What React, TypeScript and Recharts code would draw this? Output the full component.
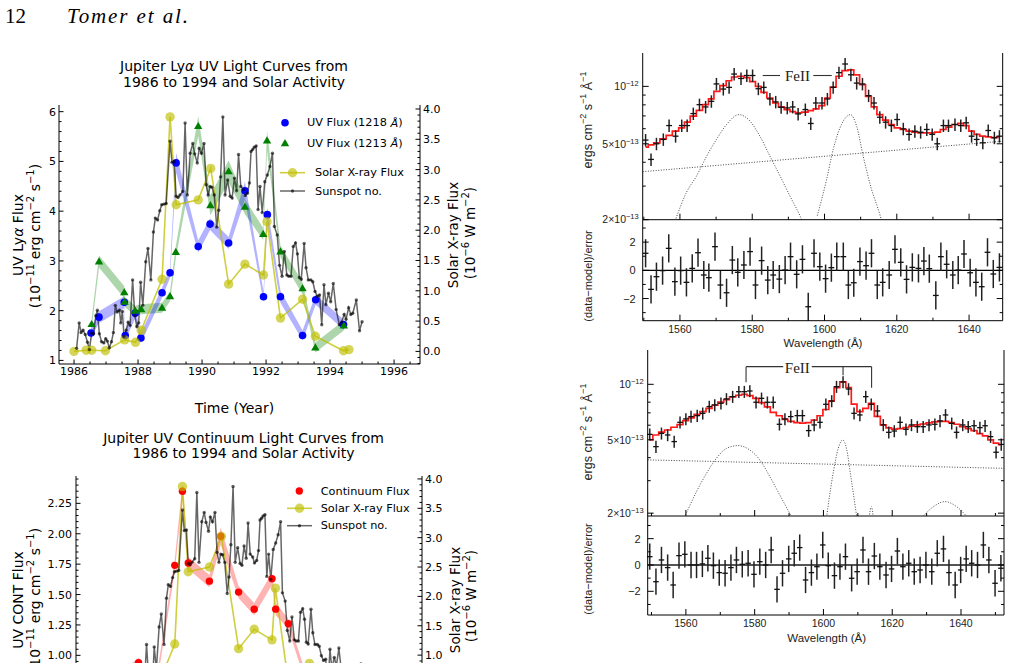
import React from 'react';
import { ComposedChart, Line, Scatter, Area, XAxis, YAxis, ErrorBar, ReferenceLine } from 'recharts';

const SANS = 'DejaVu Sans';
const ARIAL = 'Liberation Sans';
const SERIF = 'Liberation Serif';

// ---- Lyman-alpha light curves (left axis, 1e-11 erg cm-2 s-1) ----
const uv1218Year = [1986.53, 1986.78, 1987.57, 1987.6, 1987.91, 1988.09, 1988.75, 1989.0, 1989.19, 1989.88, 1990.25, 1990.83, 1991.34, 1991.92, 1992.04, 1992.45, 1993.14, 1993.55, 1994.42];
const uv1218Flux = [1.55, 1.87, 2.17, 1.5, 1.95, 1.45, 2.36, 2.76, 4.97, 3.29, 3.74, 3.36, 4.41, 2.28, 3.93, 2.28, 1.5, 2.22, 1.72];
const uv1218Err = [0.1, 0.12, 0.12, 0.1, 0.1, 0.1, 0.1, 0.1, 0.2, 0.12, 0.12, 0.12, 0.18, 0.1, 0.15, 0.12, 0.1, 0.1, 0.1];

const uv1213Year = [1986.55, 1986.78, 1987.57, 1987.58, 1987.91, 1988.1, 1988.75, 1989.0, 1989.18, 1989.88, 1990.26, 1990.83, 1991.34, 1991.91, 1992.03, 1992.45, 1993.14, 1993.54, 1994.43];
const uv1213Flux = [1.73, 2.99, 2.37, 2.18, 2.0, 2.03, 2.06, 2.29, 3.18, 5.71, 4.12, 4.8, 4.09, 3.54, 5.42, 3.19, 2.45, 1.26, 1.7];
const uv1213Err = [0.1, 0.12, 0.12, 0.1, 0.1, 0.1, 0.1, 0.1, 0.12, 0.2, 0.2, 0.22, 0.15, 0.12, 0.2, 0.12, 0.12, 0.1, 0.1];

// ---- UV continuum (left axis of lower chart) ----
const contYear = [1986.53, 1986.78, 1987.57, 1987.91, 1988.09, 1988.75, 1989.0, 1989.19, 1989.88, 1990.25, 1990.83, 1991.34, 1991.92, 1992.04, 1992.45, 1993.14, 1993.55, 1994.42];
const contFlux = [0.7, 0.78, 0.94, 0.8, 0.68, 1.74, 2.35, 1.76, 1.61, 1.98, 1.52, 1.38, 1.63, 1.38, 1.26, 0.72, 0.7, 0.62];
const contErr = [0.04, 0.04, 0.04, 0.04, 0.04, 0.05, 0.06, 0.05, 0.05, 0.07, 0.05, 0.05, 0.05, 0.05, 0.04, 0.04, 0.04, 0.04];

// ---- solar activity (right axis, 1e-6 W m-2) ----
const xrayYear = [1986.0, 1986.38, 1986.55, 1986.98, 1987.58, 1987.92, 1988.1, 1988.75, 1989.0, 1989.19, 1989.88, 1990.27, 1990.83, 1991.34, 1991.92, 1992.03, 1992.45, 1993.14, 1993.54, 1994.42, 1994.59];
const xrayFlux = [0.0, 0.02, 0.02, 0.01, 0.19, 0.15, 0.35, 1.19, 3.87, 2.42, 2.5, 3.02, 1.11, 1.44, 1.26, 2.14, 0.55, 0.86, 0.25, 0.01, 0.03];

const sunspotYear = [
  1986.08, 1986.16, 1986.22, 1986.28, 1986.35, 1986.42, 1986.48, 1986.55, 1986.61, 1986.68,
  1986.73, 1986.79, 1986.86, 1986.93, 1986.99, 1987.04, 1987.1, 1987.17, 1987.23, 1987.29,
  1987.35, 1987.42, 1987.46, 1987.51, 1987.56, 1987.63, 1987.69, 1987.75, 1987.83, 1987.9,
  1987.96, 1988.02, 1988.08, 1988.15, 1988.24, 1988.31, 1988.4, 1988.48, 1988.54, 1988.61,
  1988.68, 1988.74, 1988.81, 1988.88, 1989.0, 1989.06, 1989.13, 1989.19, 1989.25, 1989.31,
  1989.4, 1989.47, 1989.54, 1989.63, 1989.71, 1989.77, 1989.85, 1989.91, 1989.98, 1990.06,
  1990.13, 1990.19, 1990.25, 1990.31, 1990.38, 1990.46, 1990.52, 1990.58, 1990.65, 1990.72,
  1990.8, 1990.88, 1990.94, 1991.01, 1991.08, 1991.14, 1991.21, 1991.29, 1991.35, 1991.42,
  1991.48, 1991.53, 1991.58, 1991.63, 1991.69, 1991.75, 1991.81, 1991.88, 1991.96, 1992.04,
  1992.12, 1992.2, 1992.26, 1992.35, 1992.42, 1992.5, 1992.57, 1992.65, 1992.71, 1992.78,
  1992.85, 1992.92, 1992.98, 1993.04, 1993.1, 1993.19, 1993.25, 1993.32, 1993.4, 1993.46,
  1993.53, 1993.6, 1993.67, 1993.74, 1993.81, 1993.87, 1993.95, 1994.02, 1994.1, 1994.19,
  1994.29, 1994.36, 1994.44, 1994.5, 1994.58, 1994.65, 1994.71, 1994.82, 1994.92, 1995.0,
];
const sunspotValue = [
  0.05, 0.47, 0.31, 0.35, 0.28, 0.15, 0.03, 0.3, 0.29, 0.59,
  0.68, 0.29, 0.16, 0.14, 0.21, 0.17, 0.06, 0.16, 0.31, 0.76,
  0.65, 0.68, 0.47, 0.66, 0.25, 0.35, 0.48, 0.43, 1.18, 0.59,
  0.41, 0.47, 1.14, 0.76, 1.48, 1.7, 1.18, 1.97, 2.2, 2.17,
  2.32, 2.42, 2.43, 2.44, 3.47, 3.12, 3.13, 2.56, 2.54, 2.58,
  2.64, 3.77, 2.58, 3.27, 3.43, 3.26, 3.11, 3.35, 3.27, 3.43,
  2.75, 2.58, 2.72, 2.71, 2.58, 2.05, 2.33, 2.88, 3.87, 2.58,
  2.83, 2.56, 2.53, 2.86, 2.65, 3.25, 2.72, 2.67, 2.57, 2.61,
  2.78, 3.3, 3.33, 3.37, 3.39, 2.34, 2.72, 2.29, 2.8, 2.91,
  3.05, 3.27, 2.06, 1.92, 1.42, 1.24, 1.65, 1.26, 1.24, 1.24,
  1.73, 1.79, 1.61, 1.22, 1.19, 1.78, 1.38, 1.18, 1.18, 1.15,
  0.99, 0.91, 0.93, 0.44, 1.1, 0.77, 0.96, 0.82, 1.12, 0.69,
  0.44, 0.48, 0.61, 0.53, 0.72, 0.61, 0.63, 0.85, 0.34, 0.49,
];

// ---- spectrum 1 (flux in 1e-13 erg cm-2 s-1 A-1) ----
const specAWave = [1550.5, 1552.0, 1553.5, 1555.4, 1557.0, 1558.8, 1560.5, 1562.0, 1563.7, 1565.4, 1567.1, 1568.7, 1570.1, 1572.0, 1573.6, 1575.0, 1576.9, 1578.5, 1580.1, 1581.7, 1583.2, 1584.9, 1586.5, 1588.0, 1589.7, 1591.2, 1592.7, 1594.7, 1596.2, 1597.6, 1599.3, 1600.8, 1602.4, 1604.0, 1605.7, 1607.3, 1608.9, 1610.5, 1612.2, 1613.7, 1615.3, 1616.9, 1618.5, 1620.1, 1621.8, 1623.4, 1625.0, 1626.6, 1628.3, 1629.8, 1631.2, 1632.9, 1634.3, 1636.1, 1637.7, 1639.2, 1640.7, 1642.1, 1643.8, 1645.3, 1647.0, 1648.4];
const specAFlux = [5.23, 4.14, 5.0, 5.27, 6.23, 5.48, 6.23, 6.23, 7.2, 8.02, 7.8, 8.35, 10.3, 9.68, 9.88, 11.6, 11.0, 11.4, 11.4, 9.72, 9.88, 8.59, 8.29, 7.77, 7.71, 7.8, 7.17, 7.56, 6.39, 8.18, 8.18, 8.59, 9.88, 11.8, 13.1, 11.5, 10.4, 10.3, 8.94, 8.18, 6.89, 6.49, 6.23, 6.7, 5.99, 5.6, 5.82, 5.75, 5.94, 5.6, 5.0, 6.23, 6.23, 6.31, 6.23, 6.44, 5.48, 5.27, 5.06, 5.87, 5.38, 5.48];
const specAModel = [4.8, 4.93, 5.06, 5.31, 5.53, 5.82, 6.06, 6.49, 6.98, 7.49, 8.02, 8.59, 9.42, 10.1, 10.7, 11.2, 11.3, 11.1, 10.6, 10.0, 9.3, 8.69, 8.18, 7.8, 7.56, 7.38, 7.26, 7.32, 7.46, 7.62, 7.93, 8.69, 9.92, 11.3, 12.1, 12.2, 11.5, 10.2, 8.87, 7.8, 7.11, 6.65, 6.31, 6.06, 5.94, 5.82, 5.75, 5.71, 5.71, 5.71, 5.75, 5.94, 6.11, 6.31, 6.39, 6.23, 5.82, 5.6, 5.48, 5.44, 5.38, 5.44];
const specAContWave = [1549.7, 1649.3];
const specACont = [3.57, 5.16];
const specAG1Wave = [1558.9, 1561.8, 1564.6, 1567.4, 1570.1, 1572.9, 1576.3, 1579.4, 1582.1, 1584.9, 1587.7, 1590.4, 1593.2, 1594.2];
const specAG1 = [2.03, 2.78, 3.39, 4.31, 5.27, 6.31, 7.11, 6.57, 5.49, 4.31, 3.39, 2.67, 2.1, 1.9];
const specAG2Wave = [1598.0, 1600.6, 1602.4, 1604.7, 1607.2, 1608.9, 1610.7, 1613.0, 1615.4, 1616.0];
const specAG2 = [2.1, 3.26, 4.67, 6.31, 7.11, 6.18, 4.31, 2.89, 2.1, 1.9];
const specAResWave = [1550.5, 1552.0, 1553.5, 1555.2, 1556.9, 1558.6, 1560.2, 1561.8, 1563.4, 1565.0, 1566.6, 1568.0, 1569.7, 1571.2, 1572.9, 1574.5, 1576.0, 1577.7, 1579.4, 1580.9, 1582.6, 1584.3, 1585.8, 1587.5, 1589.1, 1590.6, 1592.3, 1593.9, 1595.5, 1597.1, 1598.7, 1600.3, 1601.9, 1603.4, 1605.2, 1606.6, 1608.1, 1609.8, 1611.5, 1613.0, 1614.6, 1616.1, 1617.9, 1619.5, 1621.1, 1622.7, 1624.3, 1626.0, 1627.5, 1629.0, 1630.8, 1632.2, 1633.8, 1635.5, 1637.0, 1638.6, 1640.3, 1641.9, 1643.5, 1645.1, 1646.7, 1648.4];
const specARes = [1.21, -1.35, -0.45, -0.02, 1.56, -0.8, -0.02, -0.85, 0.14, 1.25, -0.33, -0.52, 1.68, -1.04, -1.59, 0.73, -0.14, 0.38, 1.33, -1.04, 0.69, -0.69, -0.33, -0.62, 0.02, 0.97, -0.28, 0.78, -2.58, 1.21, 0.26, -0.59, 0.19, 0.97, 0.97, -1.04, -0.88, 0.62, 0.33, 1.21, -1.04, -0.85, -0.33, 1.49, 0.57, -0.64, 0.21, 0.14, 0.66, 0.12, -1.78, 0.97, 0.43, -0.33, 0.02, 1.16, -0.17, -0.85, -1.16, 1.28, -0.26, 0.21];

// ---- spectrum 2 ----
const specBWave = [1549.5, 1551.3, 1552.9, 1554.7, 1556.6, 1558.3, 1560.0, 1561.5, 1563.3, 1564.9, 1566.8, 1568.4, 1570.2, 1571.8, 1573.6, 1575.4, 1577.0, 1578.6, 1580.4, 1582.0, 1583.7, 1585.4, 1587.2, 1588.8, 1590.5, 1592.4, 1593.9, 1595.7, 1597.3, 1599.0, 1600.7, 1602.4, 1603.8, 1605.7, 1607.3, 1608.9, 1610.6, 1612.3, 1613.9, 1615.7, 1617.4, 1619.0, 1620.6, 1622.3, 1624.0, 1625.6, 1627.3, 1629.0, 1630.7, 1632.4, 1633.9, 1635.5, 1637.3, 1638.7, 1640.5, 1642.1, 1643.8, 1645.5, 1647.0, 1648.6, 1650.2, 1651.7];
const specBFlux = [5.35, 4.59, 5.42, 5.31, 4.89, 6.22, 6.49, 6.68, 6.76, 6.96, 7.57, 7.73, 7.89, 8.33, 8.57, 9.12, 9.12, 9.2, 7.99, 8.39, 7.99, 7.99, 6.07, 6.49, 6.68, 6.76, 6.76, 5.61, 6.02, 6.22, 7.79, 8.12, 9.71, 10.3, 9.43, 6.96, 6.82, 8.57, 7.79, 7.17, 6.02, 5.49, 5.58, 6.22, 5.7, 6.02, 5.89, 5.89, 6.02, 6.07, 6.33, 6.82, 6.14, 5.49, 6.02, 5.89, 5.96, 5.82, 5.96, 5.2, 4.28, 4.72];
const specBModel = [5.0, 5.31, 5.5, 5.65, 5.85, 6.05, 6.35, 6.58, 6.87, 7.1, 7.4, 7.7, 8.0, 8.25, 8.55, 8.72, 8.83, 8.68, 8.38, 7.95, 7.55, 7.05, 6.75, 6.45, 6.3, 6.2, 6.15, 6.2, 6.4, 6.75, 7.3, 8.1, 9.6, 10.3, 9.6, 7.8, 7.1, 7.4, 7.89, 6.7, 6.02, 5.8, 5.72, 5.75, 5.82, 5.92, 6.03, 6.09, 6.18, 6.25, 6.3, 6.3, 6.2, 6.07, 5.9, 5.75, 5.6, 5.4, 5.25, 5.0, 4.8, 4.7];
const specBContWave = [1548.9, 1652.5];
const specBCont = [3.89, 3.5];
const specBG1Wave = [1559.6, 1563.1, 1566.0, 1568.9, 1571.8, 1575.2, 1578.6, 1581.5, 1584.4, 1587.3, 1590.8];
const specBG1 = [1.9, 2.62, 3.29, 3.97, 4.49, 4.65, 4.4, 3.89, 3.16, 2.51, 1.9];
const specBG2Wave = [1600.9, 1602.9, 1604.3, 1605.6, 1606.7, 1607.9, 1609.7];
const specBG2 = [1.9, 3.36, 4.49, 4.99, 4.49, 3.22, 1.9];
const specBG3Wave = [1613.3, 1613.9, 1614.5];
const specBG3 = [1.9, 2.17, 1.9];
const specBG4Wave = [1628.7, 1632.0, 1635.3, 1638.7, 1641.9];
const specBG4 = [1.9, 2.17, 2.31, 2.17, 1.9];
const specBResWave = [1549.5, 1551.3, 1552.9, 1554.7, 1556.3, 1558.0, 1559.7, 1561.5, 1563.1, 1564.8, 1566.4, 1568.0, 1569.7, 1571.4, 1573.1, 1574.7, 1576.4, 1578.1, 1579.8, 1581.5, 1583.2, 1584.8, 1586.5, 1588.1, 1589.9, 1591.5, 1593.1, 1594.8, 1596.5, 1598.1, 1599.8, 1601.4, 1603.2, 1604.8, 1606.4, 1608.2, 1609.8, 1611.5, 1613.1, 1614.8, 1616.4, 1618.2, 1619.8, 1621.5, 1623.1, 1624.8, 1626.4, 1628.1, 1629.8, 1631.5, 1633.1, 1634.9, 1636.5, 1638.3, 1639.9, 1641.5, 1643.1, 1644.8, 1646.5, 1648.1, 1649.9, 1651.6];
const specBRes = [0.63, -1.27, 0.38, -0.2, -1.52, 0.71, 0.81, 0.0, 0.0, 0.08, 0.51, -0.05, -0.58, -0.63, -0.2, 0.38, 0.05, 0.13, -0.71, 0.25, 0.0, 1.14, -1.85, -0.63, 0.46, 0.89, 1.32, -1.14, -0.58, -0.13, 1.52, -0.05, -0.81, -0.13, 0.63, -1.01, -0.51, 1.14, -0.51, 0.68, -0.13, -0.76, -0.3, 1.06, -0.13, 0.13, -0.51, -0.38, 0.0, -0.51, 0.89, 1.22, -0.58, -1.52, -0.38, 0.46, 0.13, 0.0, 1.52, 0.38, -1.39, -0.25];

// ---- axis ticks ----
const range = (a: number, b: number, step: number) =>
  Array.from({ length: Math.round((b - a) / step) + 1 }, (_, i) => Number((a + i * step).toFixed(4)));
const yearMajor = [1986, 1988, 1990, 1992, 1994, 1996];
const yearTicks = range(1986, 1996.5, 0.5);
const lyaMajor = [1, 2, 3, 4, 5, 6];
const lyaTicks = range(1, 6, 0.2);
const contMajor = [0.5, 0.75, 1, 1.25, 1.5, 1.75, 2, 2.25];
const contTicks = range(0.45, 2.45, 0.05);
const xrayMajor = range(0, 4, 0.5);
const xrayTicks = range(-0.2, 4, 0.1);
const waveMajor = [1560, 1580, 1600, 1620, 1640];
const waveTicks = range(1550, 1650, 10);
const fluxMajor = [2, 5, 10];
const fluxTicks = [2, 3, 4, 5, 6, 7, 8, 9, 10];
const resMajor = [-2, 0, 2];
const resTicks = [-3, -2, -1, 0, 1, 2, 3];

const zip = (xs: number[], ys: number[]) => xs.map((x, i) => ({ x, y: ys[i] }));
const band = (xs: number[], ys: number[], es: number[]) => xs.map((x, i) => ({ x, y: ys[i], band: [ys[i] - es[i], ys[i] + es[i]] }));

const frame = { stroke: '#000', strokeWidth: 1 };
const near = (v: number, list: number[]) => list.some((m) => Math.abs(m - v) < 1e-6);

interface TickCfg {
  side: 'left' | 'right' | 'top' | 'bottom';
  majors: number[];
  fmt?: (v: number) => React.ReactNode;
  big?: number;
  small?: number;
  gap?: number;
  size?: number;
  family?: string;
  color?: string;
}

function makeTick(cfg: TickCfg) {
  const { side, majors, fmt, big = 4.5, small = 2.5, gap = 3, size = 11, family = SANS, color = '#000' } = cfg;
  return function Tick(props: any) {
    const { x, y, payload } = props;
    const v = Number(payload.value);
    const major = near(v, majors);
    const len = major ? big : small;
    const label = major && fmt ? fmt(v) : null;
    const t = { fontSize: size, fontFamily: family, fill: color };
    if (side === 'left')
      return (
        <g>
          <line x1={x} y1={y} x2={x + len} y2={y} stroke="#000" />
          {label != null && <text x={x - gap} y={y} dy="0.36em" textAnchor="end" {...t}>{label}</text>}
        </g>
      );
    if (side === 'right')
      return (
        <g>
          <line x1={x} y1={y} x2={x - len} y2={y} stroke="#000" />
          {label != null && <text x={x + gap} y={y} dy="0.36em" textAnchor="start" {...t}>{label}</text>}
        </g>
      );
    if (side === 'top') return <line x1={x} y1={y} x2={x} y2={y + len} stroke="#000" />;
    return (
      <g>
        <line x1={x} y1={y} x2={x} y2={y - len} stroke="#000" />
        {label != null && <text x={x} y={y + gap} dy="0.75em" textAnchor="middle" {...t}>{label}</text>}
      </g>
    );
  };
}

const axisBase = { type: 'number' as const, allowDataOverflow: true, interval: 0 as const, tickSize: 0, tickMargin: 0, tickLine: false, axisLine: frame };

const dotShape = (color: string, r: number) => (p: any) => <circle cx={p.cx} cy={p.cy} r={r} fill={color} />;
const triShape = (p: any) => (
  <polygon points={`${p.cx},${p.cy - 4.2} ${p.cx - 4.2},${p.cy + 3} ${p.cx + 4.2},${p.cy + 3}`} fill="#008000" />
);
const noShape = () => <g />;

const XRAY = '#bfbf00';
const yearDomain: [number, number] = [1985.53, 1996.81];

function LyaChart() {
  return (
    <ComposedChart width={480} height={400} margin={{ top: 105, right: 0, bottom: 0, left: 0 }}>
      <XAxis xAxisId="b" dataKey="x" domain={yearDomain} ticks={yearTicks} height={36} tick={makeTick({ side: 'bottom', majors: yearMajor, fmt: String, gap: 3 })} {...axisBase} />
      <XAxis xAxisId="t" orientation="top" dataKey="x" domain={yearDomain} ticks={yearTicks} height={0} tick={makeTick({ side: 'top', majors: yearMajor })} {...axisBase} />
      <YAxis yAxisId="l" dataKey="y" domain={[0.928, 6.134]} ticks={lyaTicks} width={59} tick={makeTick({ side: 'left', majors: lyaMajor, fmt: String })} {...axisBase} />
      <YAxis yAxisId="r" orientation="right" dataKey="y" domain={[-0.208, 4.066]} ticks={xrayTicks} width={60} tick={makeTick({ side: 'right', majors: xrayMajor, fmt: (v) => v.toFixed(1) })} {...axisBase} />
      <Line xAxisId="t" yAxisId="l" data={zip(uv1218Year, uv1218Flux)} dataKey="y" stroke="none" dot={false} activeDot={false} isAnimationActive={false} />
      <Area xAxisId="b" yAxisId="l" data={band(uv1213Year, uv1213Flux, uv1213Err)} dataKey="band" type="linear" fill="#008000" fillOpacity={0.32} stroke="none" isAnimationActive={false} />
      <Area xAxisId="b" yAxisId="l" data={band(uv1218Year, uv1218Flux, uv1218Err)} dataKey="band" type="linear" fill="#0000ff" fillOpacity={0.3} stroke="none" isAnimationActive={false} />
      <Scatter xAxisId="b" yAxisId="l" data={zip(uv1218Year, uv1218Flux)} shape={dotShape('#0000ff', 3.8)} isAnimationActive={false} />
      <Scatter xAxisId="b" yAxisId="l" data={zip(uv1213Year, uv1213Flux)} shape={triShape} isAnimationActive={false} />
      <Line xAxisId="b" yAxisId="r" data={zip(xrayYear, xrayFlux)} dataKey="y" type="linear" stroke={XRAY} strokeOpacity={0.75} strokeWidth={1.6} dot={{ r: 4.7, fill: XRAY, fillOpacity: 0.65, stroke: 'none' }} activeDot={false} isAnimationActive={false} />
      <Line xAxisId="b" yAxisId="r" data={zip(sunspotYear, sunspotValue)} dataKey="y" type="linear" stroke="#000" strokeOpacity={0.6} strokeWidth={1.5} dot={{ r: 1.7, fill: '#000', fillOpacity: 0.6, stroke: 'none' }} activeDot={false} isAnimationActive={false} />
    </ComposedChart>
  );
}

function ContChart() {
  // the page ends before this chart's bottom axis, so its year labels are not drawn
  return (
    <ComposedChart width={480} height={360} margin={{ top: 96, right: 0, bottom: 0, left: 0 }}>
      <XAxis xAxisId="b" dataKey="x" domain={yearDomain} ticks={yearTicks} height={15} tick={makeTick({ side: 'bottom', majors: yearMajor })} {...axisBase} />
      <XAxis xAxisId="t" orientation="top" dataKey="x" domain={yearDomain} ticks={yearTicks} height={0} tick={makeTick({ side: 'top', majors: yearMajor })} {...axisBase} />
      <YAxis yAxisId="l" dataKey="y" domain={[0.427, 2.475]} ticks={contTicks} width={76} tick={makeTick({ side: 'left', majors: contMajor, fmt: (v) => (v >= 1 ? v.toFixed(2) : ''), gap: 4 })} {...axisBase} />
      <YAxis yAxisId="r" orientation="right" dataKey="y" domain={[-0.19, 4.05]} ticks={xrayTicks} width={58} tick={makeTick({ side: 'right', majors: xrayMajor, fmt: (v) => (v >= 1 ? v.toFixed(1) : '') })} {...axisBase} />
      <Line xAxisId="t" yAxisId="l" data={zip(contYear, contFlux)} dataKey="y" stroke="none" dot={false} activeDot={false} isAnimationActive={false} />
      <Area xAxisId="b" yAxisId="l" data={band(contYear, contFlux, contErr)} dataKey="band" type="linear" fill="#ff0000" fillOpacity={0.3} stroke="none" isAnimationActive={false} />
      <Scatter xAxisId="b" yAxisId="l" data={zip(contYear, contFlux)} shape={dotShape('#ff0000', 3.7)} isAnimationActive={false} />
      <Line xAxisId="b" yAxisId="r" data={zip(xrayYear, xrayFlux)} dataKey="y" type="linear" stroke={XRAY} strokeOpacity={0.75} strokeWidth={1.6} dot={{ r: 4.7, fill: XRAY, fillOpacity: 0.65, stroke: 'none' }} activeDot={false} isAnimationActive={false} />
      <Line xAxisId="b" yAxisId="r" data={zip(sunspotYear, sunspotValue)} dataKey="y" type="linear" stroke="#000" strokeOpacity={0.6} strokeWidth={1.5} dot={{ r: 1.7, fill: '#000', fillOpacity: 0.6, stroke: 'none' }} activeDot={false} isAnimationActive={false} />
    </ComposedChart>
  );
}

interface SpecCfg {
  plotLeft: number;
  plotRight: number;
  plotTop: number;
  divider: number;
  plotBottom: number;
  xDomain: [number, number];
  yDomain: [number, number];
  resDomain: [number, number];
  wave: number[];
  flux: number[];
  model: number[];
  cont: { x: number; y: number }[];
  comps: { x: number; y: number }[][];
  resWave: number[];
  res: number[];
  fe: { x: number; y: number }[][];
  zero: { stroke: string; width: number };
}

const logLabel = (v: number) =>
  v === 10 ? (
    <>
      10<tspan dy={-4} fontSize={7.5}>−12</tspan>
    </>
  ) : (
    <>
      {v}×10<tspan dy={-4} fontSize={7.5}>−13</tspan>
    </>
  );

const PAGE_W = 1011;
const BELOW = 8; // room under the flux panel so its lowest tick label is not clipped

function SpecPanel({ cfg }: { cfg: SpecCfg }) {
  const left = 580;
  const lw = cfg.plotLeft - left;
  const rw = PAGE_W - cfg.plotRight;
  const topH = cfg.divider - (cfg.plotTop - 10) + BELOW;
  const resH = cfg.plotBottom + 24 - cfg.divider;
  const wt = waveTicks.filter((t) => t >= cfg.xDomain[0] && t <= cfg.xDomain[1]);
  const pts = cfg.wave.map((x, i) => ({ x, y: cfg.flux[i], ex: 0.8, ey: cfg.flux[i] * 0.075 }));
  const resPts = cfg.resWave.map((x, i) => ({ x, y: cfg.res[i], ex: 0.8, ey: 1 }));
  const tk = { family: ARIAL, color: '#222', big: 6, small: 3 };
  const dotted = { stroke: '#333', strokeWidth: 0.9, strokeDasharray: '1 1.6' };
  return (
    <>
      <div style={{ position: 'absolute', left, top: cfg.divider }}>
        <ComposedChart width={PAGE_W - left} height={resH} margin={{ top: 0, right: 0, bottom: 0, left: 0 }}>
          <XAxis xAxisId="b" dataKey="x" domain={cfg.xDomain} ticks={wt} height={24} tick={makeTick({ side: 'bottom', majors: waveMajor, fmt: String, size: 10.5, gap: 4, ...tk })} {...axisBase} />
          <XAxis xAxisId="t" orientation="top" dataKey="x" domain={cfg.xDomain} ticks={wt} height={0} tick={makeTick({ side: 'top', majors: waveMajor, ...tk })} {...axisBase} />
          <YAxis yAxisId="l" dataKey="y" domain={cfg.resDomain} ticks={resTicks} width={lw} tick={makeTick({ side: 'left', majors: resMajor, fmt: (v) => (v < 0 ? `−${-v}` : String(v)), size: 11, gap: 7, ...tk })} {...axisBase} />
          <YAxis yAxisId="r" orientation="right" dataKey="y" domain={cfg.resDomain} ticks={resTicks} width={rw} tick={makeTick({ side: 'right', majors: resMajor, ...tk })} {...axisBase} />
          <Line xAxisId="t" yAxisId="r" data={resPts} dataKey="y" stroke="none" dot={false} activeDot={false} isAnimationActive={false} />
          <ReferenceLine xAxisId="b" yAxisId="l" y={0} stroke={cfg.zero.stroke} strokeWidth={cfg.zero.width} />
          <Scatter xAxisId="b" yAxisId="l" data={resPts} shape={noShape} isAnimationActive={false}>
            <ErrorBar dataKey="ey" direction="y" width={0} stroke="#222" strokeWidth={1.5} isAnimationActive={false} />
            <ErrorBar dataKey="ex" direction="x" width={0} stroke="#111" strokeWidth={1.3} isAnimationActive={false} />
          </Scatter>
        </ComposedChart>
      </div>
      <div style={{ position: 'absolute', left, top: cfg.plotTop - 10 }}>
        <ComposedChart width={PAGE_W - left} height={topH} margin={{ top: 10, right: 0, bottom: 0, left: 0 }}>
          <XAxis xAxisId="b" dataKey="x" domain={cfg.xDomain} ticks={wt} height={BELOW} tick={makeTick({ side: 'bottom', majors: waveMajor, ...tk })} {...axisBase} />
          <XAxis xAxisId="t" orientation="top" dataKey="x" domain={cfg.xDomain} ticks={wt} height={0} tick={makeTick({ side: 'top', majors: waveMajor, ...tk })} {...axisBase} />
          <YAxis yAxisId="l" dataKey="y" scale="log" domain={cfg.yDomain} ticks={fluxTicks} width={lw} tick={makeTick({ side: 'left', majors: fluxMajor, fmt: logLabel, size: 10.5, gap: 4, ...tk })} {...axisBase} />
          <YAxis yAxisId="r" orientation="right" dataKey="y" scale="log" domain={cfg.yDomain} ticks={fluxTicks} width={rw} tick={makeTick({ side: 'right', majors: fluxMajor, ...tk })} {...axisBase} />
          <Line xAxisId="t" yAxisId="r" data={cfg.cont} dataKey="y" stroke="none" dot={false} activeDot={false} isAnimationActive={false} />
          <Line xAxisId="b" yAxisId="l" data={cfg.cont} dataKey="y" type="linear" {...dotted} dot={false} activeDot={false} isAnimationActive={false} />
          {cfg.comps.map((c, i) => (
            <Line key={i} xAxisId="b" yAxisId="l" data={c} dataKey="y" type="monotone" {...dotted} dot={false} activeDot={false} isAnimationActive={false} />
          ))}
          <Line xAxisId="b" yAxisId="l" data={zip(cfg.wave, cfg.model)} dataKey="y" type="step" stroke="#ff1a1a" strokeWidth={1.7} dot={false} activeDot={false} isAnimationActive={false} />
          <Scatter xAxisId="b" yAxisId="l" data={pts} shape={noShape} isAnimationActive={false}>
            <ErrorBar dataKey="ey" direction="y" width={0} stroke="#222" strokeWidth={1.5} isAnimationActive={false} />
            <ErrorBar dataKey="ex" direction="x" width={0} stroke="#111" strokeWidth={1.3} isAnimationActive={false} />
          </Scatter>
          {cfg.fe.map((seg, i) => (
            <ReferenceLine key={i} xAxisId="b" yAxisId="l" segment={seg} stroke="#333" strokeWidth={1.1} ifOverflow="visible" />
          ))}
        </ComposedChart>
      </div>
    </>
  );
}

const specACfg: SpecCfg = {
  plotLeft: 642.7,
  plotRight: 1002.7,
  plotTop: 53.3,
  divider: 220,
  plotBottom: 320.7,
  xDomain: [1549.7, 1649.3],
  yDomain: [2.0, 14.96],
  resDomain: [-3.57, 3.57],
  wave: specAWave,
  flux: specAFlux,
  model: specAModel,
  cont: zip(specAContWave, specACont),
  comps: [zip(specAG1Wave, specAG1), zip(specAG2Wave, specAG2)],
  resWave: specAResWave,
  res: specARes,
  fe: [
    [{ x: 1582.9, y: 11.4 }, { x: 1587.7, y: 11.4 }],
    [{ x: 1596.9, y: 11.4 }, { x: 1602.0, y: 11.4 }],
  ],
  zero: { stroke: '#000', width: 1.3 },
};

const specBCfg: SpecCfg = {
  plotLeft: 647.7,
  plotRight: 1004,
  plotTop: 350,
  divider: 516,
  plotBottom: 615,
  xDomain: [1548.9, 1652.5],
  yDomain: [1.93, 15.35],
  resDomain: [-3.8, 3.72],
  wave: specBWave,
  flux: specBFlux,
  model: specBModel,
  cont: zip(specBContWave, specBCont),
  comps: [zip(specBG1Wave, specBG1), zip(specBG2Wave, specBG2), zip(specBG3Wave, specBG3), zip(specBG4Wave, specBG4)],
  resWave: specBResWave,
  res: specBRes,
  fe: [
    [{ x: 1577.5, y: 12.47 }, { x: 1588.3, y: 12.47 }],
    [{ x: 1596.6, y: 12.47 }, { x: 1614.0, y: 12.47 }],
    [{ x: 1577.5, y: 12.47 }, { x: 1577.5, y: 10.25 }],
    [{ x: 1605.7, y: 12.47 }, { x: 1605.7, y: 11.2 }],
    [{ x: 1614.0, y: 12.47 }, { x: 1614.0, y: 9.59 }],
  ],
  zero: { stroke: '#555', width: 2 },
};

// superscript helper for SVG text
function Rich({ parts, sup }: { parts: (string | [string])[]; sup: number }) {
  let raised = false;
  return (
    <>
      {parts.map((p, i) => {
        if (Array.isArray(p)) {
          const el = (
            <tspan key={i} dy={raised ? 0 : -sup * 0.55} fontSize={sup}>
              {p[0]}
            </tspan>
          );
          raised = true;
          return el;
        }
        const el = (
          <tspan key={i} dy={raised ? sup * 0.55 : 0}>
            {p}
          </tspan>
        );
        raised = false;
        return el;
      })}
    </>
  );
}

function VText({ x, y, size, family = SANS, fill = '#000', children }: any) {
  return (
    <text transform={`translate(${x},${y}) rotate(-90)`} textAnchor="middle" dominantBaseline="central" fontSize={size} fontFamily={family} fill={fill}>
      {children}
    </text>
  );
}

function Overlay() {
  const t14 = { fontFamily: SANS, fontSize: 14, textAnchor: 'middle' as const, dominantBaseline: 'central' as const };
  const leg = { fontFamily: SANS, fontSize: 11.3, dominantBaseline: 'central' as const };
  const sp = { fontFamily: ARIAL, fill: '#222', textAnchor: 'middle' as const, dominantBaseline: 'central' as const };
  return (
    <svg width={1011} height={663} style={{ position: 'absolute', left: 0, top: 0, pointerEvents: 'none' }}>
      {/* running head */}
      <text x={5} y={23} fontFamily={SERIF} fontSize={21}>12</text>
      <text x={67} y={23} fontFamily={SERIF} fontSize={21} fontStyle="italic" textLength={121} lengthAdjust="spacing">Tomer et al.</text>

      {/* Lyα chart */}
      <text x={234} y={66} {...t14}>Jupiter Ly<tspan fontStyle="italic">α</tspan> UV Light Curves from</text>
      <text x={234} y={82} {...t14}>1986 to 1994 and Solar Activity</text>
      <text x={234.5} y={408} {...t14}>Time (Year)</text>
      <VText x={18} y={235} size={14}>UV Ly<tspan fontStyle="italic">α</tspan> Flux</VText>
      <VText x={35} y={236} size={14}>
        <Rich parts={['(10', ['−11'], ' erg cm', ['−2'], ' s', ['−1'], ')']} sup={10} />
      </VText>
      <VText x={453} y={235} size={13.5}>Solar X-ray Flux</VText>
      <VText x={470} y={233} size={13.5}>
        <Rich parts={['(10', ['−6'], ' W m', ['−2'], ')']} sup={10} />
      </VText>
      <circle cx={285} cy={122.7} r={3.8} fill="#0000ff" />
      <text x={307} y={122.7} {...leg}>UV Flux (1218 <tspan fontStyle="italic">Å</tspan>)</text>
      <polygon points="285,139.1 280.8,146.3 289.2,146.3" fill="#008000" />
      <text x={307} y={143.3} {...leg}>UV Flux (1213 <tspan fontStyle="italic">Å</tspan>)</text>
      <line x1={280} y1={172.7} x2={305} y2={172.7} stroke={XRAY} strokeOpacity={0.75} strokeWidth={1.6} />
      <circle cx={292.5} cy={172.7} r={4.7} fill={XRAY} fillOpacity={0.65} />
      <text x={315} y={172.7} {...leg}>Solar X-ray Flux</text>
      <line x1={280} y1={191} x2={305} y2={191} stroke="#000" strokeOpacity={0.6} strokeWidth={1.5} />
      <circle cx={292.5} cy={191} r={1.7} fill="#000" fillOpacity={0.6} />
      <text x={315} y={191} {...leg}>Sunspot no.</text>

      {/* continuum chart */}
      <text x={243.5} y={437.7} {...t14}>Jupiter UV Continuum Light Curves from</text>
      <text x={243.5} y={452.7} {...t14}>1986 to 1994 and Solar Activity</text>
      <VText x={17.5} y={600} size={14}>UV CONT Flux</VText>
      <VText x={35} y={600} size={14}>
        <Rich parts={['(10', ['−11'], ' erg cm', ['−2'], ' s', ['−1'], ')']} sup={10} />
      </VText>
      <VText x={455} y={600} size={13.5}>Solar X-ray Flux</VText>
      <VText x={471} y={596} size={13.5}>
        <Rich parts={['(10', ['−6'], ' W m', ['−2'], ')']} sup={10} />
      </VText>
      <circle cx={299.3} cy={491} r={3.7} fill="#ff0000" />
      <text x={320.7} y={491} {...leg}>Continuum Flux</text>
      <line x1={287} y1={508.3} x2={312} y2={508.3} stroke={XRAY} strokeOpacity={0.75} strokeWidth={1.6} />
      <circle cx={299.5} cy={508.3} r={4.7} fill={XRAY} fillOpacity={0.65} />
      <text x={320.7} y={508.3} {...leg}>Solar X-ray Flux</text>
      <line x1={287} y1={525.7} x2={312} y2={525.7} stroke="#000" strokeOpacity={0.6} strokeWidth={1.5} />
      <circle cx={299.5} cy={525.7} r={1.7} fill="#000" fillOpacity={0.6} />
      <text x={320.7} y={525.7} {...leg}>Sunspot no.</text>

      {/* spectra */}
      <VText x={588} y={120} size={12.5} family={ARIAL} fill="#222">
        <Rich parts={['ergs cm', ['−2'], ' s', ['−1'], ' Å', ['−1']]} sup={9} />
      </VText>
      <VText x={588} y={276} size={11} family={ARIAL} fill="#222">(data−model)/error</VText>
      <text x={823} y={343} fontSize={11.5} {...sp}>Wavelength (Å)</text>
      <text x={797.5} y={76} fontFamily={SERIF} fontSize={15} textAnchor="middle" dominantBaseline="central" fill="#222">FeII</text>

      <VText x={588} y={432} size={12.5} family={ARIAL} fill="#222">
        <Rich parts={['ergs cm', ['−2'], ' s', ['−1'], ' Å', ['−1']]} sup={9} />
      </VText>
      <VText x={588} y={569} size={11} family={ARIAL} fill="#222">(data−model)/error</VText>
      <text x={826.7} y={638.3} fontSize={11.5} {...sp}>Wavelength (Å)</text>
      <text x={797.3} y={367.7} fontFamily={SERIF} fontSize={15} textAnchor="middle" dominantBaseline="central" fill="#222">FeII</text>
    </svg>
  );
}

export default function App() {
  return (
    <div style={{ position: 'fixed', left: 0, top: 0, width: 1011, height: 663, overflow: 'hidden', background: '#fff' }}>
      <div style={{ position: 'absolute', left: 0, top: 0 }}>
        <LyaChart />
      </div>
      <div style={{ position: 'absolute', left: 0, top: 380 }}>
        <ContChart />
      </div>
      <SpecPanel cfg={specACfg} />
      <SpecPanel cfg={specBCfg} />
      <Overlay />
    </div>
  );
}
